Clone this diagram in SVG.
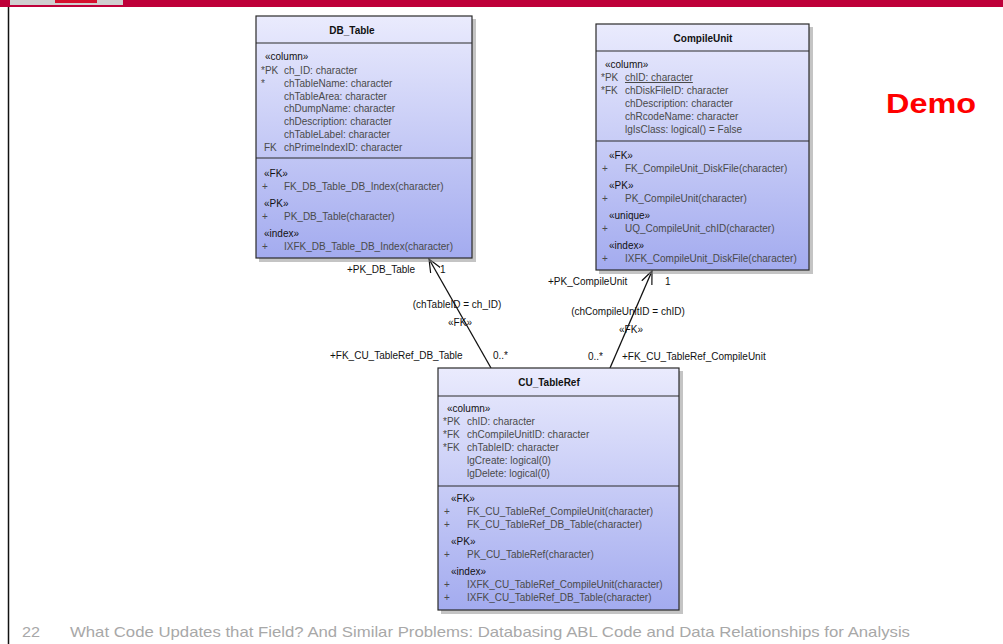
<svg xmlns="http://www.w3.org/2000/svg" width="1003" height="644" viewBox="0 0 1003 644">
  <defs>
    <linearGradient id="tableFill" x1="0" y1="0" x2="0" y2="1">
      <stop offset="0" stop-color="#eaebfd"/>
      <stop offset="1" stop-color="#a3abef"/>
    </linearGradient>
    <marker id="openArrow" viewBox="0 0 14 14" refX="13" refY="7" markerWidth="14" markerHeight="14" markerUnits="userSpaceOnUse" orient="auto">
      <path d="M0,1.5 L13,7 L0,12.5" fill="none" stroke="#111" stroke-width="1.2"/>
    </marker>
    <style>
      .box { fill: url(#tableFill); stroke: #2a2a2a; stroke-width: 1.2; }
      .shadow { fill: #8a8a8a; opacity: 0.5; }
      .sep { stroke: #2a2a2a; stroke-width: 1.2; }
      text { font-family: "Liberation Sans", Arial, sans-serif; }
      .title { font-size: 10px; font-weight: bold; fill: #111; text-anchor: middle; }
      .st { font-size: 10px; fill: #111; }
      .at { font-size: 10px; fill: #4a4a4a; }
      .lbl { font-size: 10px; fill: #111; }
      .conn { stroke: #111; stroke-width: 1.3; fill: none; }
      .foot { font-size: 15px; fill: #a8a8a8; }
    </style>
  </defs>

  <rect width="1003" height="644" fill="#ffffff"/>

  <!-- slide frame -->
  <rect x="0" y="0" width="1003" height="7" fill="#be0039"/>
  <rect x="10" y="0" width="113" height="5" fill="#cfcfcf"/>
  <rect x="55" y="0" width="42" height="3" fill="#d5102e"/>
  <line x1="8.5" y1="7" x2="8.5" y2="644" stroke="#111" stroke-width="1.5"/>

  <text x="886" y="113" font-size="27" font-weight="bold" fill="#ff0000" textLength="90" lengthAdjust="spacingAndGlyphs" style="font-family:'Liberation Sans',Arial,sans-serif">Demo</text>

  <!-- connectors -->
  <g id="connectors">
    <line class="conn" x1="491" y1="368" x2="429" y2="259" marker-end="url(#openArrow)"/>
    <line class="conn" x1="610" y1="368" x2="652" y2="271" marker-end="url(#openArrow)"/>
    <text class="lbl" x="347" y="273">+PK_DB_Table</text>
    <text class="lbl" x="440" y="273">1</text>
    <text class="lbl" x="457" y="308" text-anchor="middle">(chTableID = ch_ID)</text>
    <text class="lbl" x="460" y="326" text-anchor="middle">«FK»</text>
    <text class="lbl" x="330" y="359">+FK_CU_TableRef_DB_Table</text>
    <text class="lbl" x="493" y="359">0..*</text>
    <text class="lbl" x="548" y="285">+PK_CompileUnit</text>
    <text class="lbl" x="665" y="285">1</text>
    <text class="lbl" x="628" y="315" text-anchor="middle">(chCompileUnitID = chID)</text>
    <text class="lbl" x="631" y="333" text-anchor="middle">«FK»</text>
    <text class="lbl" x="588" y="360">0..*</text>
    <text class="lbl" x="622" y="360">+FK_CU_TableRef_CompileUnit</text>
  </g>

  <!-- DB_Table -->
  <g id="DB_Table">
    <rect class="shadow" x="259" y="19" width="217" height="243"/>
    <rect class="box" x="256" y="16" width="216" height="242"/>
    <line class="sep" x1="256" y1="43" x2="472" y2="43"/>
    <line class="sep" x1="256" y1="158" x2="472" y2="158"/>
    <text class="title" x="352" y="34">DB_Table</text>
    <text class="st" x="265" y="60">«column»</text>
    <text class="at" x="261" y="74">*PK</text><text class="at" x="284" y="74">ch_ID: character</text>
    <text class="at" x="261" y="87">*</text><text class="at" x="284" y="87">chTableName: character</text>
    <text class="at" x="284" y="100">chTableArea: character</text>
    <text class="at" x="284" y="112">chDumpName: character</text>
    <text class="at" x="284" y="125">chDescription: character</text>
    <text class="at" x="284" y="138">chTableLabel: character</text>
    <text class="at" x="264" y="151">FK</text><text class="at" x="284" y="151">chPrimeIndexID: character</text>
    <text class="st" x="264" y="177">«FK»</text>
    <text class="at" x="262" y="190">+</text><text class="at" x="284" y="190">FK_DB_Table_DB_Index(character)</text>
    <text class="st" x="264" y="207">«PK»</text>
    <text class="at" x="262" y="220">+</text><text class="at" x="284" y="220">PK_DB_Table(character)</text>
    <text class="st" x="264" y="237">«index»</text>
    <text class="at" x="262" y="250">+</text><text class="at" x="284" y="250">IXFK_DB_Table_DB_Index(character)</text>
  </g>

  <!-- CompileUnit -->
  <g id="CompileUnit">
    <rect class="shadow" x="599" y="27" width="214" height="247"/>
    <rect class="box" x="596" y="24" width="213" height="246"/>
    <line class="sep" x1="596" y1="51" x2="809" y2="51"/>
    <line class="sep" x1="596" y1="141" x2="809" y2="141"/>
    <text class="title" x="703" y="42">CompileUnit</text>
    <text class="st" x="605" y="68">«column»</text>
    <text class="at" x="601" y="81">*PK</text><text class="at" x="625" y="81" text-decoration="underline">chID: character</text>
    <text class="at" x="601" y="94">*FK</text><text class="at" x="625" y="94">chDiskFileID: character</text>
    <text class="at" x="625" y="107">chDescription: character</text>
    <text class="at" x="625" y="120">chRcodeName: character</text>
    <text class="at" x="625" y="133">lgIsClass: logical() = False</text>
    <text class="st" x="609" y="159">«FK»</text>
    <text class="at" x="602" y="172">+</text><text class="at" x="625" y="172">FK_CompileUnit_DiskFile(character)</text>
    <text class="st" x="609" y="189">«PK»</text>
    <text class="at" x="602" y="202">+</text><text class="at" x="625" y="202">PK_CompileUnit(character)</text>
    <text class="st" x="609" y="219">«unique»</text>
    <text class="at" x="602" y="232">+</text><text class="at" x="625" y="232">UQ_CompileUnit_chID(character)</text>
    <text class="st" x="609" y="249">«index»</text>
    <text class="at" x="602" y="262">+</text><text class="at" x="625" y="262">IXFK_CompileUnit_DiskFile(character)</text>
  </g>

  <!-- CU_TableRef -->
  <g id="CU_TableRef">
    <rect class="shadow" x="441" y="371" width="242" height="243"/>
    <rect class="box" x="438" y="368" width="241" height="242"/>
    <line class="sep" x1="438" y1="396" x2="679" y2="396"/>
    <line class="sep" x1="438" y1="486" x2="679" y2="486"/>
    <text class="title" x="549" y="386">CU_TableRef</text>
    <text class="st" x="447" y="412">«column»</text>
    <text class="at" x="443" y="425">*PK</text><text class="at" x="467" y="425">chID: character</text>
    <text class="at" x="443" y="438">*FK</text><text class="at" x="467" y="438">chCompileUnitID: character</text>
    <text class="at" x="443" y="451">*FK</text><text class="at" x="467" y="451">chTableID: character</text>
    <text class="at" x="467" y="464">lgCreate: logical(0)</text>
    <text class="at" x="467" y="477">lgDelete: logical(0)</text>
    <text class="st" x="451" y="502">«FK»</text>
    <text class="at" x="444" y="515">+</text><text class="at" x="467" y="515">FK_CU_TableRef_CompileUnit(character)</text>
    <text class="at" x="444" y="528">+</text><text class="at" x="467" y="528">FK_CU_TableRef_DB_Table(character)</text>
    <text class="st" x="451" y="545">«PK»</text>
    <text class="at" x="444" y="558">+</text><text class="at" x="467" y="558">PK_CU_TableRef(character)</text>
    <text class="st" x="451" y="575">«index»</text>
    <text class="at" x="444" y="588">+</text><text class="at" x="467" y="588">IXFK_CU_TableRef_CompileUnit(character)</text>
    <text class="at" x="444" y="601">+</text><text class="at" x="467" y="601">IXFK_CU_TableRef_DB_Table(character)</text>
  </g>

  <!-- footer -->
  <text class="foot" x="22" y="637" textLength="18" lengthAdjust="spacingAndGlyphs">22</text>
  <text class="foot" x="70" y="637" textLength="840" lengthAdjust="spacingAndGlyphs">What Code Updates that Field? And Similar Problems: Databasing ABL Code and Data Relationships for Analysis</text>
</svg>
